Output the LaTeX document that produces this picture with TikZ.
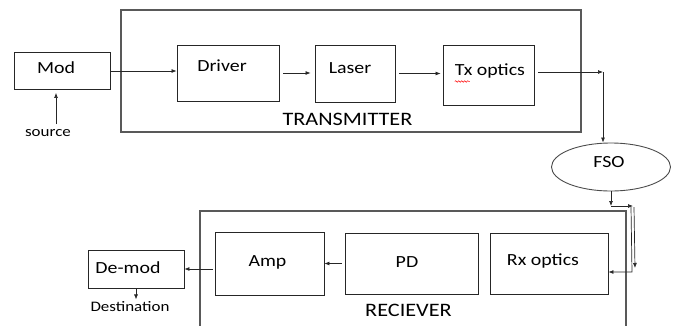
\documentclass[tikz,border=0pt]{standalone}
\usepackage{fontspec}
\setmainfont{Carlito}[FakeStretch=1.17]
\usetikzlibrary{arrows.meta,calc,shapes.geometric,decorations.pathmorphing}
\newcommand{\fsoBlock}[5]{%
    \node[blk, minimum width=#4pt, minimum height=#5pt] (#1) at (#2,#3) {};
}
\begin{document}
\begin{tikzpicture}[x=1pt, y=-1pt,
    blk/.style={draw=black!85, line width=0.9pt, inner sep=0pt},
    outer/.style={draw=black!65, line width=1.1pt},
    txt/.style={inner sep=0pt, font=\fontsize{17}{20}\selectfont},
    small/.style={inner sep=0pt, font=\fontsize{14.5}{17}\selectfont},
    big/.style={inner sep=0pt, font=\fontsize{19}{22}\selectfont},
    arr/.style={-{Latex[length=5pt,width=4pt]}, line width=0.7pt, black!85}]
    \useasboundingbox (0,0) rectangle (675,325);

    % transmitter side
    \draw[outer] (121,10) rectangle (581,132);
    \node[big] (txlbl) at (347.5,119) {TRANSMITTER};
    \fsoBlock{mod}{62}{71}{96}{37}
    \node[txt] at (56,68) {Mod};
    \node[small] (src) at (48,133) {source};
    \coordinate (srcpt) at (56,124);
    \fsoBlock{driver}{228}{73}{102}{56}
    \node[txt] at (222,66) {Driver};
    \fsoBlock{laser}{355}{73.5}{80}{57}
    \node[txt] at (350,68) {Laser};
    \fsoBlock{tx}{488.5}{75}{91}{60}
    \node[txt] (txtext) at (490,71) {Tx optics};
    \draw[red, line width=0.5pt, decorate,
          decoration={snake, amplitude=0.8pt, segment length=3pt}]
        ($(txtext.south west)+(0,3)$) -- ++(15,0);

    \draw[arr, shorten >=3pt] (srcpt) -- (srcpt |- mod.south);
    \draw[arr] (mod.east) -- (mod.east -| driver.west);
    \draw[arr, shorten <=4pt, shorten >=4pt] (driver.east) -- (driver.east -| laser.west);
    \draw[arr, shorten <=4pt, shorten >=2pt] (laser.east) -- (laser.east -| tx.west);

    % receiver side
    \draw[outer] (200,330) -- (200,211) -- (626,211) -- (626,330);
    \node[big] (rxlbl) at (408.5,310) {RECIEVER};
    \fsoBlock{amp}{269.5}{263.5}{109}{63}
    \node[txt] at (267.5,262) {Amp};
    \fsoBlock{pd}{411.5}{263.5}{133}{61}
    \node[txt] at (407,262) {PD};
    \fsoBlock{rx}{549}{263.5}{118}{61}
    \node[txt] at (543,261) {Rx optics};
    \fsoBlock{demod}{136}{269}{96}{38}
    \node[txt] at (128,268) {De-mod};
    \node[small] (dest) at (130,307) {Destination};

    \draw[arr, shorten <=3pt] (pd.west) -- (amp.east);
    \draw[arr, shorten <=2pt] (demod.east -| amp.west) -- (demod.east);
    \draw[arr] (demod.south) -- ($(demod.south)+(0,11)$);

    % channel
    \node[ellipse, draw=black!70, line width=0.9pt, minimum width=119pt,
          minimum height=48pt, inner sep=0pt] (fso) at (611,167) {};
    \node[txt] at (609,162) {FSO};
    \coordinate (txout) at (603,72);
    \draw[arr, shorten <=4pt] ($(tx.east)+(0,-3)$) -- (txout);
    \draw[arr] (txout) -- (txout |- fso.north);
    \coordinate (chA) at (611,206);
    \coordinate (chB) at (633,206);
    \coordinate (chC) at (635,268);
    \draw[arr] (fso.south) -- (chA);
    \draw[arr] (chA) -- (chB);
    \draw[arr] ($(chB)+(1,1)$) -- (chC);
    \draw[arr] ($(chB)+(-2,1)$) -- ($(chC)+(-3,4)$) -- ($(rx.east)+(0,8.5)$);
\end{tikzpicture}
\end{document}
